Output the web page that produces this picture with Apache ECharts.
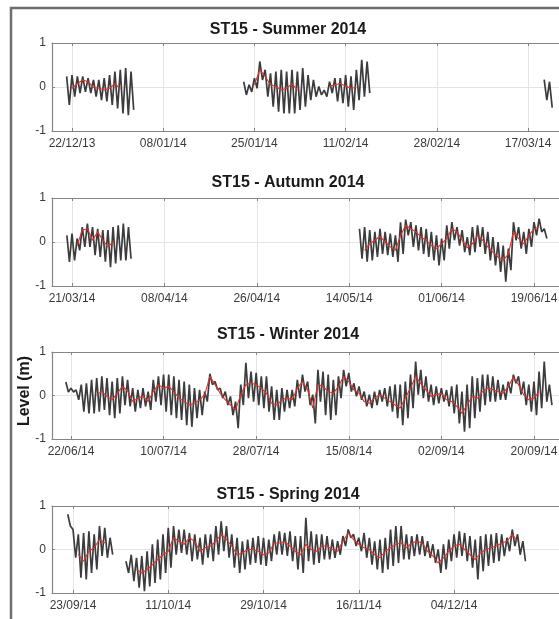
<!DOCTYPE html>
<html>
<head>
<meta charset="utf-8">
<script src="https://cdn.jsdelivr.net/npm/echarts@6/dist/echarts.min.js"></script>
<style>
  html, body { margin: 0; padding: 0; background: #fff; }
  #chart { width: 559px; height: 619px; }
</style>
</head>
<body>
<div id="chart"></div>
<script>
// Water level at station ST15, one panel per season.
// Raw record: daily high / low of the tide; filtered record: daily mean.

// ---- Summer (Dec 2013 - Mar 2014) ----
const summerStart = ['2013-12-21', '2014-01-23', '2014-03-20'];
const summerHigh = [
  [0.24, 0.27, 0.24, 0.24, 0.2, 0.16, 0.16, 0.2, 0.27, 0.35, 0.39, 0.43, 0.35],
  [0.12, 0.05, 0.2, 0.58, 0.39, 0.31, 0.35, 0.39, 0.35, 0.39, 0.35, 0.43, 0.27, 0.16, 0.01, -0.07, 0.12, 0.2, 0.2, 0.27, 0.24, 0.39, 0.62, 0.58],
  [0.17, 0.12]
];
const summerLow = [
  [-0.41, -0.22, -0.14, -0.11, -0.14, -0.22, -0.3, -0.33, -0.41, -0.49, -0.6, -0.64, -0.52],
  [-0.18, -0.11, -0.03, 0.16, -0.22, -0.45, -0.56, -0.6, -0.6, -0.6, -0.52, -0.45, -0.3, -0.22, -0.18, -0.22, -0.14, -0.33, -0.37, -0.45, -0.52, -0.3, -0.22, -0.14],
  [-0.3, -0.47]
];
const summerMean = [
  [null, -0.03, 0.08, 0.16, 0.12, -0.01, -0.03, -0.07, -0.03, 0.08, -0.05, null, null],
  [null, null, 0.05, 0.39, 0.24, 0.05, 0.01, -0.07, -0.03, 0.08, -0.07, null, null, null, null, null, 0.02, 0.05, 0.08, 0.02, -0.03, -0.01, null, null],
  [null, null]
];
const summerTicks = ['2013-12-22', '2014-01-08', '2014-01-25', '2014-02-11', '2014-02-28', '2014-03-17'];

// ---- Autumn (Mar - Jun 2014) ----
const autumnStart = ['2014-03-20', '2014-05-16'];
const autumnHigh = [
  [0.15, 0.19, 0.08, 0.34, 0.42, 0.34, 0.3, 0.27, 0.27, 0.34, 0.38, 0.42, 0.34],
  [0.3, 0.34, 0.27, 0.23, 0.3, 0.23, 0.19, 0.15, 0.45, 0.51, 0.45, 0.38, 0.34, 0.3, 0.23, 0.15, 0.08, 0.38, 0.45, 0.34, 0.27, 0.11, 0.34, 0.38, 0.34, 0.23, 0.11, 0, -0.08, -0.15, 0.45, 0.34, 0.23, 0.3, 0.45, 0.53, 0.3]
];
const autumnLow = [
  [-0.45, -0.42, -0.19, -0.11, -0.11, -0.3, -0.34, -0.45, -0.57, -0.49, -0.42, -0.42, -0.38],
  [-0.38, -0.45, -0.42, -0.34, -0.27, -0.3, -0.34, -0.45, -0.27, 0.15, -0.11, -0.19, -0.27, -0.34, -0.42, -0.53, -0.42, -0.15, 0.04, -0.08, -0.23, -0.3, -0.23, -0.11, -0.27, -0.42, -0.53, -0.68, -0.9, -0.64, 0.04, -0.15, -0.27, -0.11, 0.15, 0.23, 0.08]
];
const autumnMean = [
  [null, null, -0.08, 0.27, 0.3, 0.04, 0.23, 0.04, -0.11, 0.0, null, null, null],
  [null, -0.19, -0.04, 0.04, 0.13, 0, -0.11, -0.19, 0.15, 0.38, 0.3, 0.23, 0.11, 0.04, -0.08, -0.15, -0.04, 0.08, 0.3, 0.23, 0.04, -0.13, -0.04, 0.15, 0.04, -0.11, -0.23, -0.34, -0.42, -0.27, 0.23, 0.08, -0.04, 0.15, 0.3, 0.34, null]
];
const autumnTicks = ['2014-03-21', '2014-04-08', '2014-04-26', '2014-05-14', '2014-06-01', '2014-06-19'];

// ---- Winter (Jun - Sep 2014) ----
const winterStart = ['2014-06-21'];
const winterHigh = [[
  0.31, 0.17, 0.13, 0.25, 0.28, 0.36, 0.4, 0.44, 0.4, 0.32, 0.4,
  0.44, 0.36, 0.17, 0.13, 0.17, 0.09, 0.36, 0.44, 0.48, 0.48,
  0.44, 0.36, 0.32, 0.25, 0.17, 0.13, 0.09, 0.5, 0.32, 0.17,
  0.09, -0.02, -0.14, 0.25, 0.75, 0.55, 0.52, 0.44, 0.44, 0.21,
  0.13, 0.17, 0.13, 0.13, 0.36, 0.48, 0.32, 0.02, 0.59, 0.55,
  0.48, 0.36, 0.44, 0.59, 0.52, 0.28, 0.21, 0.09, 0.02, 0.09,
  0.13, 0.17, 0.21, 0.25, 0.25, 0.32, 0.48, 0.78, 0.59, 0.44,
  0.25, 0.21, 0.17, 0.13, 0.21, 0.25, 0.09, 0.25, 0.44, 0.4,
  0.48, 0.48, 0.44, 0.36, 0.25, 0.32, 0.48, 0.44, 0.32, 0.25,
  0.32, 0.55, 0.78, 0.25
]];
const winterLow = [[
  0.08, 0.08, -0.1, -0.37, -0.41, -0.41, -0.37, -0.33, -0.45, -0.52, -0.41,
  -0.22, -0.25, -0.37, -0.29, -0.25, -0.33, -0.14, -0.22, -0.37, -0.45,
  -0.52, -0.56, -0.68, -0.72, -0.52, -0.45, -0.14, 0.25, 0.13, -0.06,
  -0.22, -0.45, -0.75, -0.22, -0.06, -0.14, -0.22, -0.29, -0.37, -0.56,
  -0.56, -0.37, -0.29, -0.25, -0.06, 0.09, -0.22, -0.64, -0.14, -0.45,
  -0.56, -0.45, -0.06, 0.21, 0.09, -0.02, -0.1, -0.25, -0.29, -0.22,
  -0.14, -0.25, -0.37, -0.52, -0.68, -0.52, -0.29, 0.02, -0.06, -0.14,
  -0.22, -0.18, -0.14, -0.25, -0.41, -0.64, -0.83, -0.75, -0.52, -0.37,
  -0.22, -0.14, -0.14, -0.1, -0.1, 0.05, 0.28, 0.02, -0.22, -0.37,
  -0.45, -0.29, -0.14, -0.22
]];
const winterMean = [[
  null, null, null, null, null, null, 0.02, 0.09, -0.02, -0.1, 0.05,
  0.21, 0.11, -0.14, -0.06, -0.02, -0.14, 0.09, 0.25, 0.17, 0.21,
  0.09, -0.06, -0.14, -0.22, -0.18, -0.1, 0.02, 0.44, 0.25, 0.05,
  -0.1, -0.22, -0.33, 0.02, 0.25, 0.28, 0.25, 0.17, 0.05, -0.18,
  -0.22, -0.1, -0.06, -0.1, 0.17, 0.32, 0.13, -0.29, 0.25, 0.21,
  0.09, 0.05, 0.21, 0.44, 0.32, 0.13, 0.05, -0.14, -0.18, -0.06,
  0.02, -0.06, -0.14, -0.22, -0.29, -0.06, 0.17, 0.44, 0.28, 0.13,
  -0.02, 0.02, 0.05, -0.1, -0.14, -0.25, -0.41, -0.22, -0.02, -0.06,
  0.09, 0.17, 0.13, 0.09, 0.05, 0.21, 0.42, 0.25, 0.02, -0.1,
  -0.06, 0.09, null, null
]];
const winterTicks = ['2014-06-22', '2014-07-10', '2014-07-28', '2014-08-15', '2014-09-02', '2014-09-20'];

// ---- Spring (Sep - Dec 2014) ----
const springStart = ['2014-09-22', '2014-10-03'];
const springHigh = [
  [0.81, 0.46, 0.35, 0.38, 0.42, 0.35, 0.54, 0.5, 0.27],
  [-0.27, -0.12, -0.19, -0.15, -0.04, 0.12, 0.23, 0.35, 0.5, 0.54,
   0.46, 0.46, 0.38, 0.35, 0.27, 0.35, 0.35, 0.54, 0.65, 0.54,
   0.35, 0.27, 0.19, 0.23, 0.27, 0.31, 0.27, 0.23, 0.35, 0.42,
   0.38, 0.42, 0.31, 0.31, 0.73, 0.42, 0.35, 0.35, 0.31, 0.23,
   0.19, 0.31, 0.46, 0.35, 0.27, 0.38, 0.27, 0.19, 0.23, 0.27,
   0.46, 0.54, 0.54, 0.35, 0.31, 0.35, 0.31, 0.19, 0.12, 0,
   0.12, 0.23, 0.35, 0.42, 0.38, 0.31, 0.23, 0.31, 0.35, 0.35,
   0.38, 0.35, 0.27, 0.46, 0.35, 0.19]
];
const springLow = [
  [0.54, -0.19, -0.65, -0.69, -0.54, -0.46, -0.15, -0.19, -0.12],
  [-0.54, -0.73, -0.88, -0.96, -0.85, -0.77, -0.69, -0.54, -0.42, -0.12,
   -0.08, -0.12, -0.27, -0.23, -0.35, -0.19, -0.27, -0.12, -0.04, -0.19,
   -0.42, -0.54, -0.46, -0.35, -0.31, -0.35, -0.38, -0.27, -0.12, -0.12,
   -0.15, -0.27, -0.46, -0.54, -0.27, -0.35, -0.31, -0.23, -0.23, -0.19,
   -0.12, 0.08, 0.27, 0.08, -0.04, -0.19, -0.35, -0.46, -0.54, -0.46,
   -0.38, -0.31, -0.23, -0.23, -0.15, -0.12, -0.15, -0.19, -0.31, -0.54,
   -0.46, -0.27, -0.19, -0.15, -0.27, -0.42, -0.69, -0.5, -0.38, -0.31,
   -0.27, -0.15, -0.04, 0.08, -0.12, -0.27]
];
const springMean = [
  [null, null, -0.12, -0.27, -0.04, 0.04, 0.23, 0.15, null],
  [null, null, -0.46, -0.54, -0.46, -0.35, -0.23, -0.12, -0.04, 0.27,
   0.19, 0.12, 0.27, 0.18, -0.04, 0.04, 0.08, 0.19, 0.35, 0.23,
   0.08, -0.12, -0.08, 0, 0, -0.04, -0.12, -0.08, 0.15, 0.15,
   0.18, 0.08, -0.04, -0.12, 0.12, 0, -0.04, 0.08, 0.08, 0,
   -0.04, 0.19, 0.38, 0.23, 0.12, 0.04, 0, -0.12, -0.19, -0.04,
   0.04, 0.12, 0.15, 0.04, 0.15, 0.19, 0.15, -0.04, -0.15, -0.31,
   -0.19, -0.04, 0.08, 0.12, 0, -0.12, -0.23, -0.08, 0, 0.04,
   0.08, 0.15, 0.19, 0.35, 0.19, null]
];
const springTicks = ['2014-09-23', '2014-10-11', '2014-10-29', '2014-11-16', '2014-12-04'];

const levelTicks = [-1, 0, 1];

// ---- layout ----
const DAY = 86400000;
const FONT = '"Liberation Sans", Arial, Helvetica, sans-serif';
const AXIS_GREY = '#858585';
const GRID_GREY = '#e4e4e4';
const PLOT_LEFT = 52, PLOT_WIDTH = 528;

const panels = [
  { title: 'ST15 - Summer 2014', start: summerStart, high: summerHigh, low: summerLow, mean: summerMean, ticks: summerTicks,
    min: '2013-12-18T06:32:00Z', max: '2014-03-26T16:19:00Z', top: 43, height: 88, titleY: 30 },
  { title: 'ST15 - Autumn 2014', start: autumnStart, high: autumnHigh, low: autumnLow, mean: autumnMean, ticks: autumnTicks,
    min: '2014-03-17T02:30:00Z', max: '2014-06-27T23:00:00Z', top: 198, height: 88, titleY: 183 },
  { title: 'ST15 - Winter 2014', start: winterStart, high: winterHigh, low: winterLow, mean: winterMean, ticks: winterTicks,
    min: '2014-06-18T07:26:00Z', max: '2014-09-28T22:50:00Z', top: 352, height: 87, titleY: 335 },
  { title: 'ST15 - Spring 2014', start: springStart, high: springHigh, low: springLow, mean: springMean, ticks: springTicks,
    min: '2014-09-19T00:43:00Z', max: '2014-12-27T19:12:00Z', top: 506, height: 87, titleY: 495 }
];

function fmtDate(v) {
  const d = new Date(v);
  const p = n => (n < 10 ? '0' : '') + n;
  return p(d.getUTCDate()) + '/' + p(d.getUTCMonth() + 1) + '/' + p(d.getUTCFullYear() % 100);
}

const grids = [], xAxes = [], yAxes = [], series = [], graphics = [];

panels.forEach((p, i) => {
  const tickVals = p.ticks.map(s => Date.parse(s));
  const xmin = Date.parse(p.min), xmax = Date.parse(p.max);

  // the plot box runs on past the right edge of the page
  grids.push({ left: PLOT_LEFT, top: p.top, width: PLOT_WIDTH, height: p.height, outerBoundsMode: 'none', containLabel: false });

  xAxes.push({
    type: 'value', gridIndex: i, min: xmin, max: xmax, position: 'bottom',
    axisLine: { show: true, onZero: false, lineStyle: { color: AXIS_GREY, width: 1.2 } },
    axisTick: { show: true, inside: true, length: 3, customValues: tickVals, lineStyle: { color: AXIS_GREY } },
    axisLabel: { show: true, customValues: tickVals, formatter: fmtDate, color: '#3a3a3a', fontSize: 12, fontFamily: FONT, margin: 7 },
    splitLine: { show: true, lineStyle: { color: GRID_GREY, width: 1 } }
  });
  xAxes.push({
    type: 'value', gridIndex: i, min: xmin, max: xmax, position: 'top',
    axisLine: { show: true, onZero: false, lineStyle: { color: AXIS_GREY, width: 1.2 } },
    axisTick: { show: true, inside: true, length: 3, customValues: tickVals, lineStyle: { color: AXIS_GREY } },
    axisLabel: { show: false },
    splitLine: { show: false }
  });
  yAxes.push({
    type: 'value', gridIndex: i, min: -1, max: 1, interval: 1,
    axisLine: { show: true, onZero: false, lineStyle: { color: AXIS_GREY, width: 1.2 } },
    axisTick: { show: true, inside: true, length: 3, lineStyle: { color: AXIS_GREY } },
    axisLabel: { color: '#3a3a3a', fontSize: 12, fontFamily: FONT, margin: 6,
                 formatter: v => (levelTicks.indexOf(v) >= 0 ? String(v) : '') },
    splitLine: { show: true, lineStyle: { color: GRID_GREY, width: 1 } }
  });

  p.start.forEach((s, k) => {
    const t0 = Date.parse(s);
    const raw = [], filt = [];
    p.high[k].forEach((h, j) => {
      const t = t0 + j * DAY;
      raw.push([t, h]);
      raw.push([t + DAY / 2, p.low[k][j]]);
      filt.push([t, p.mean[k][j]]);
    });
    series.push({
      type: 'line', xAxisIndex: 2 * i, yAxisIndex: i, data: raw,
      symbol: 'none', silent: true, z: 2,
      lineStyle: { color: '#3c3c3c', width: 1.7 }
    });
    series.push({
      type: 'line', xAxisIndex: 2 * i, yAxisIndex: i, data: filt,
      symbol: 'none', silent: true, z: 3, connectNulls: false,
      lineStyle: { color: '#e3302a', width: 1.1 }
    });
  });

  graphics.push({
    type: 'text', x: 288, y: p.titleY,
    style: { text: p.title, font: 'bold 16px ' + FONT, fill: '#1a1a1a', align: 'center', verticalAlign: 'middle' }
  });
});

// figure frame and shared axis title
graphics.push({
  type: 'rect', shape: { x: 11, y: 8, width: 620, height: 700 },
  style: { fill: 'none', stroke: '#6e6e6e', lineWidth: 2.5 }, z: 10
});
graphics.push({
  type: 'text', x: 25, y: 391, rotation: Math.PI / 2,
  style: { text: 'Level (m)', font: 'bold 16px ' + FONT, fill: '#1a1a1a', align: 'center', verticalAlign: 'middle' }
});

const chart = echarts.init(document.getElementById('chart'), null, { renderer: 'canvas' });
chart.setOption({
  animation: false,
  backgroundColor: '#ffffff',
  grid: grids,
  xAxis: xAxes,
  yAxis: yAxes,
  series: series,
  graphic: graphics
});
</script>
</body>
</html>
